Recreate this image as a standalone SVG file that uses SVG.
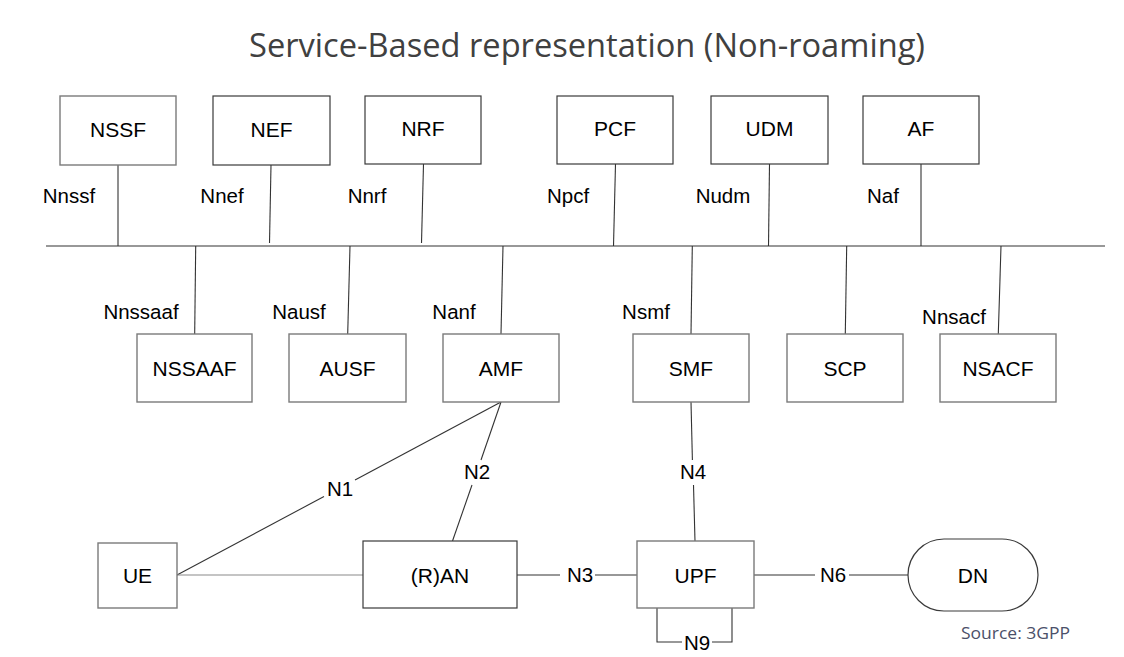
<svg xmlns="http://www.w3.org/2000/svg" width="1124" height="657" viewBox="0 0 1124 657">
<style>
  .box { fill: #ffffff; stroke: #7a7a7a; stroke-width: 1.4; }
  .box.dk { stroke: #3a3a3a; stroke-width: 1.2; }
  .nt { font-family: "Liberation Sans", Arial, sans-serif; font-size: 21px; fill: #000; text-anchor: middle; }
  .lt { font-family: "Liberation Sans", Arial, sans-serif; font-size: 20.5px; fill: #000; text-anchor: middle; }
  .ln { stroke: #333333; stroke-width: 1.1; fill: none; }
  .ln.g { stroke: #8a8a8a; }
</style>
<rect width="1124" height="657" fill="#ffffff"/>
<text x="587" y="57" font-family="'Open Sans', 'Noto Sans', sans-serif" font-size="33" fill="#404040" text-anchor="middle" textLength="676" lengthAdjust="spacingAndGlyphs">Service-Based representation (Non-roaming)</text>

<g id="connectors">
  <line class="ln" x1="46" y1="246" x2="1105" y2="246"/>
  <line class="ln" x1="118" y1="165" x2="118" y2="246"/>
  <line class="ln" x1="271" y1="165" x2="269.5" y2="243"/>
  <line class="ln" x1="423.5" y1="164" x2="421.5" y2="243"/>
  <line class="ln" x1="615.5" y1="164" x2="613.5" y2="246"/>
  <line class="ln" x1="769.5" y1="164" x2="768.5" y2="246"/>
  <line class="ln" x1="921" y1="164" x2="921" y2="246"/>
  <line class="ln" x1="195.7" y1="246" x2="194.7" y2="334"/>
  <line class="ln" x1="350" y1="246" x2="347.7" y2="334"/>
  <line class="ln" x1="503" y1="246" x2="501" y2="334"/>
  <line class="ln" x1="692.3" y1="246" x2="691" y2="334"/>
  <line class="ln" x1="846.7" y1="246" x2="845.3" y2="334"/>
  <line class="ln" x1="1001" y1="246" x2="998.3" y2="334"/>
  <!-- N1 -->
  <line class="ln" x1="501" y1="402" x2="355" y2="480"/>
  <line class="ln" x1="324" y1="496.5" x2="177" y2="575"/>
  <!-- N2 -->
  <line class="ln" x1="501" y1="402" x2="481" y2="460"/>
  <line class="ln" x1="472" y1="485" x2="452.5" y2="541"/>
  <!-- UE - RAN -->
  <line class="ln g" x1="177" y1="575" x2="363" y2="575"/>
  <!-- N3 -->
  <line class="ln" x1="517" y1="575" x2="560" y2="575"/>
  <line class="ln" x1="595" y1="575" x2="637" y2="575"/>
  <!-- N4 -->
  <line class="ln" x1="691" y1="402" x2="692.4" y2="460"/>
  <line class="ln" x1="693.5" y1="485" x2="695" y2="541"/>
  <!-- N6 -->
  <line class="ln" x1="754" y1="575" x2="815" y2="575"/>
  <line class="ln" x1="849" y1="575" x2="908" y2="575"/>
  <!-- N9 -->
  <polyline class="ln" points="657,608 657,642 682,642"/>
  <polyline class="ln" points="712,642 732,642 732,608"/>

  <text class="lt" x="69" y="203">Nnssf</text>
  <text class="lt" x="222" y="203">Nnef</text>
  <text class="lt" x="367" y="203">Nnrf</text>
  <text class="lt" x="568" y="203">Npcf</text>
  <text class="lt" x="723" y="203">Nudm</text>
  <text class="lt" x="883" y="203">Naf</text>
  <text class="lt" x="141" y="319">Nnssaaf</text>
  <text class="lt" x="299" y="319">Nausf</text>
  <text class="lt" x="454" y="319">Nanf</text>
  <text class="lt" x="646" y="319">Nsmf</text>
  <text class="lt" x="954" y="324">Nnsacf</text>
  <text class="lt" x="340" y="496">N1</text>
  <text class="lt" x="477" y="479">N2</text>
  <text class="lt" x="580" y="582">N3</text>
  <text class="lt" x="693" y="479">N4</text>
  <text class="lt" x="833" y="582">N6</text>
  <text class="lt" x="697" y="650">N9</text>
</g>

<g id="NSSF"><rect class="box" x="60" y="96" width="116" height="69"/><text class="nt" x="118" y="137">NSSF</text></g>
<g id="NEF"><rect class="box dk" x="213" y="96" width="117" height="69"/><text class="nt" x="271.5" y="137">NEF</text></g>
<g id="NRF"><rect class="box dk" x="365" y="96" width="116" height="68"/><text class="nt" x="423" y="136">NRF</text></g>
<g id="PCF"><rect class="box dk" x="557" y="96" width="116" height="68"/><text class="nt" x="615" y="136">PCF</text></g>
<g id="UDM"><rect class="box dk" x="711" y="96" width="117" height="68"/><text class="nt" x="769.5" y="136">UDM</text></g>
<g id="AF"><rect class="box dk" x="863" y="96" width="116" height="68"/><text class="nt" x="921" y="136">AF</text></g>

<g id="NSSAAF"><rect class="box" x="137" y="334" width="115" height="68"/><text class="nt" x="194.5" y="375.5">NSSAAF</text></g>
<g id="AUSF"><rect class="box" x="289" y="334" width="117" height="68"/><text class="nt" x="347.5" y="375.5">AUSF</text></g>
<g id="AMF"><rect class="box" x="443" y="334" width="116" height="68"/><text class="nt" x="501" y="375.5">AMF</text></g>
<g id="SMF"><rect class="box" x="633" y="334" width="116" height="68"/><text class="nt" x="691" y="375.5">SMF</text></g>
<g id="SCP"><rect class="box" x="787" y="334" width="116" height="68"/><text class="nt" x="845" y="375.5">SCP</text></g>
<g id="NSACF"><rect class="box" x="940" y="334" width="116" height="68"/><text class="nt" x="998" y="375.5">NSACF</text></g>

<g id="UE"><rect class="box" x="98" y="543" width="79" height="65"/><text class="nt" x="137.5" y="583">UE</text></g>
<g id="RAN"><rect class="box dk" x="363" y="541" width="154" height="67"/><text class="nt" x="440" y="583">(R)AN</text></g>
<g id="UPF"><rect class="box" x="637" y="541" width="117" height="67"/><text class="nt" x="695.5" y="583">UPF</text></g>
<g id="DN"><rect class="box dk" x="908" y="539" width="130" height="72" rx="36" ry="36"/><text class="nt" x="973" y="583">DN</text></g>

<text x="1015.5" y="639" font-family="'Open Sans', 'Noto Sans', sans-serif" font-size="17" fill="#4b5069" text-anchor="middle" textLength="109" lengthAdjust="spacingAndGlyphs">Source: 3GPP</text>
</svg>
